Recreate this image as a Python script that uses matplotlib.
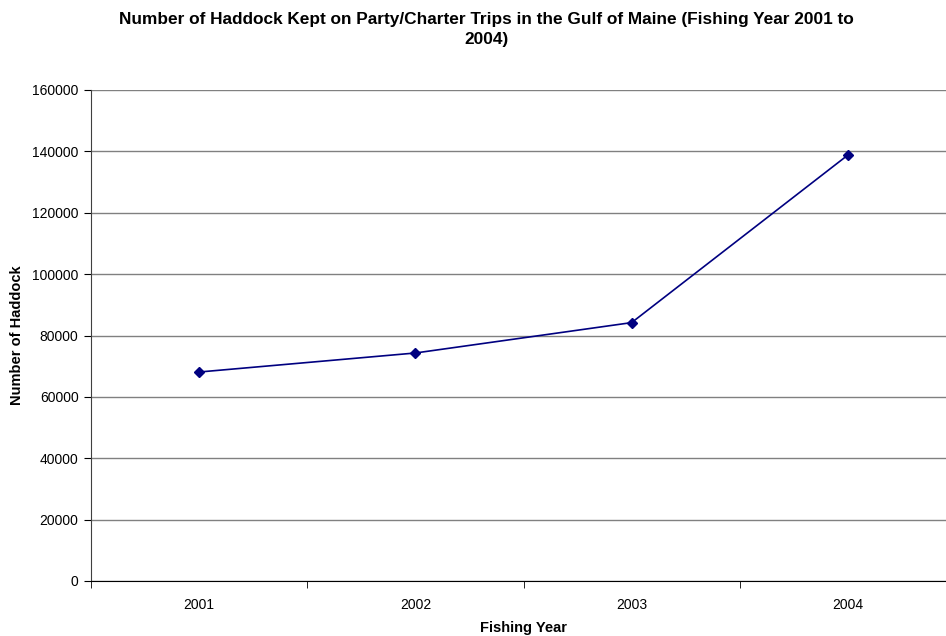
import matplotlib
matplotlib.use("Agg")
import matplotlib.pyplot as plt
from matplotlib.ticker import FixedLocator

plt.rcParams['font.family'] = ['Liberation Sans', 'DejaVu Sans']

years = ["2001", "2002", "2003", "2004"]
haddock = [68100, 74300, 84200, 138800]
y_ticks = [0, 20000, 40000, 60000, 80000, 100000, 120000, 140000, 160000]

fig = plt.figure(figsize=(9.46, 6.36), dpi=100)
ax = fig.add_axes([91/946, 1-581/636, 865/946, 491/636])

x = list(range(len(years)))
ax.plot(x, haddock, color='#000080', linewidth=1.2, marker='D', markersize=5,
        markerfacecolor='#000080', markeredgecolor='#000080', clip_on=False, zorder=3)

ax.set_xlim(-0.5, len(years)-0.5)
ax.set_ylim(0, 160000)
ax.set_yticks(y_ticks)
ax.set_yticklabels([str(v) for v in y_ticks], fontsize=10)
ax.set_xticks(x)
ax.set_xticklabels(years, fontsize=10)
ax.tick_params(axis='x', which='major', length=0, pad=12)
ax.xaxis.set_minor_locator(FixedLocator([i + 0.5 for i in range(-1, len(years))]))
ax.tick_params(axis='x', which='minor', length=5, direction='out', color='black')
ax.tick_params(axis='y', length=5, direction='out', color='black', pad=4)

ax.grid(axis='y', color='#808080', linewidth=1.0)
ax.set_axisbelow(True)
for s in ['top', 'right']:
    ax.spines[s].set_visible(False)
ax.spines['left'].set_color('#404040')
ax.spines['bottom'].set_color('black')

ax.set_xlabel('Fishing Year', fontsize=10.5, fontweight='bold', labelpad=7)
ax.set_ylabel('Number of Haddock', fontsize=10.5, fontweight='bold', labelpad=6)

fig.text(486/946, 1-29.5/636, 'Number of Haddock Kept on Party/Charter Trips in the Gulf of Maine (Fishing Year 2001 to\n2004)',
         ha='center', va='center', fontsize=12.4, fontweight='bold', linespacing=1.45)

fig.savefig('out.png', dpi=100)
